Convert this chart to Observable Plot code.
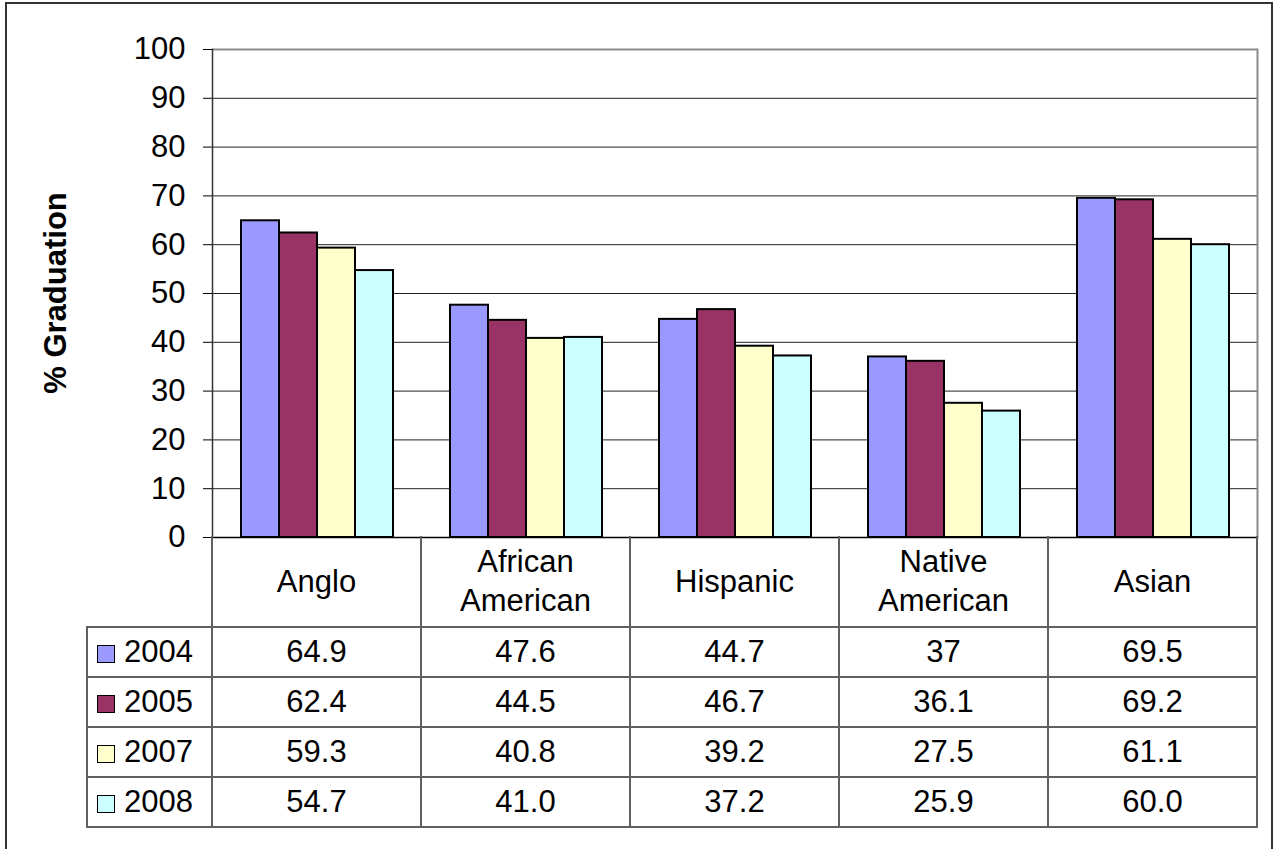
<!DOCTYPE html>
<html>
<head>
<meta charset="utf-8">
<script src="https://cdn.jsdelivr.net/npm/d3@7"></script>
<script src="https://cdn.jsdelivr.net/npm/@observablehq/plot@0.6"></script>
<style>
  html, body { margin: 0; padding: 0; background: #fff; }
  #root { position: relative; width: 1285px; height: 849px; overflow: hidden; font-family: "Liberation Sans", Arial, sans-serif; color: #000; }
  #outer { position: absolute; left: 5px; top: 2px; width: 1268px; height: 900px; border: 2px solid #333; box-sizing: border-box; }
  #chart { position: absolute; left: 0; top: 0; }
  #ytitle { position: absolute; left: 56px; top: 293px; transform: translate(-50%, -50%) rotate(-90deg); font-weight: bold; font-size: 31px; white-space: nowrap; }
  #table { position: absolute; left: 86px; top: 536px; border-collapse: collapse; table-layout: fixed; font-size: 31px; }
  #table td { border: 2px solid #606060; text-align: center; vertical-align: middle; padding: 0; }
  #table tr.head td { height: 90px; border-top: none; line-height: 39px; padding: 0 4px; }
  #table tr.head td.blank { border: none; }
  #table tr.row td { height: 48px; }
  #table td.key { text-align: left; padding-left: 9px; white-space: nowrap; }
  .sw { display: inline-block; width: 16px; height: 16px; border: 1.5px solid #000; margin-right: 9px; vertical-align: -1px; }
</style>
</head>
<body>
<div id="root">
  <div id="outer"></div>
  <div id="chart"></div>
  <div id="ytitle">% Graduation</div>
  <table id="table"></table>
</div>
<script>
// ---- data ----
const categories = ["Anglo", "African American", "Hispanic", "Native American", "Asian"];
const years = ["2004", "2005", "2007", "2008"];
const v2004 = ["64.9", "47.6", "44.7", "37", "69.5"];
const v2005 = ["62.4", "44.5", "46.7", "36.1", "69.2"];
const v2007 = ["59.3", "40.8", "39.2", "27.5", "61.1"];
const v2008 = ["54.7", "41.0", "37.2", "25.9", "60.0"];
const seriesLabels = [v2004, v2005, v2007, v2008];
const colors = ["#9999FF", "#993366", "#FFFFCC", "#CCFFFF"];
const yTicks = [0, 10, 20, 30, 40, 50, 60, 70, 80, 90, 100];
const yTitle = "% Graduation";

const rows = [];
years.forEach((yr, j) => categories.forEach((c, i) => rows.push({category: c, year: yr, value: +seriesLabels[j][i]})));

const chart = Plot.plot({
  width: 1285,
  height: 545,
  marginLeft: 212,
  marginRight: 28,
  marginTop: 49,
  marginBottom: 8,
  style: {fontFamily: "'Liberation Sans', Arial, sans-serif", fontSize: "31px", color: "#000", background: "transparent", overflow: "visible"},
  fx: {domain: categories, padding: 0, axis: null},
  x: {domain: years, paddingInner: 0, paddingOuter: 0.75, axis: null},
  y: {domain: [0, 100], ticks: yTicks, tickSize: 9, tickPadding: 18, label: null},
  color: {domain: years, range: colors},
  marks: [
    Plot.ruleY(yTicks.filter(d => d > 0 && d < 100), {stroke: "#222", strokeWidth: 1}),
    Plot.ruleY([100], {stroke: "#8a8a8a", strokeWidth: 2}),
    Plot.frame({anchor: "right", facetAnchor: "right", stroke: "#8a8a8a", strokeWidth: 2}),
    Plot.barY(rows, {fx: "category", x: "year", y: "value", fill: "year", stroke: "#000", strokeWidth: 2, inset: 0}),
    Plot.ruleY([0], {stroke: "#000", strokeWidth: 1.5}),
    Plot.frame({anchor: "left", facetAnchor: "left", stroke: "#333", strokeWidth: 1.5})
  ]
});
document.getElementById("chart").appendChild(chart);
document.getElementById("ytitle").textContent = yTitle;

// ---- data table ----
const table = document.getElementById("table");
const colgroup = document.createElement("colgroup");
[125, 209, 209, 209, 209, 209].forEach(w => { const c = document.createElement("col"); c.style.width = w + "px"; colgroup.appendChild(c); });
table.appendChild(colgroup);
const head = document.createElement("tr");
head.className = "head";
const blank = document.createElement("td"); blank.className = "blank"; head.appendChild(blank);
categories.forEach(c => { const td = document.createElement("td"); td.textContent = c; head.appendChild(td); });
table.appendChild(head);
years.forEach((yr, j) => {
  const tr = document.createElement("tr");
  tr.className = "row";
  const key = document.createElement("td");
  key.className = "key";
  const sw = document.createElement("span"); sw.className = "sw"; sw.style.background = colors[j];
  key.appendChild(sw);
  key.appendChild(document.createTextNode(yr));
  tr.appendChild(key);
  seriesLabels[j].forEach(s => { const td = document.createElement("td"); td.textContent = s; tr.appendChild(td); });
  table.appendChild(tr);
});
</script>
</body>
</html>
